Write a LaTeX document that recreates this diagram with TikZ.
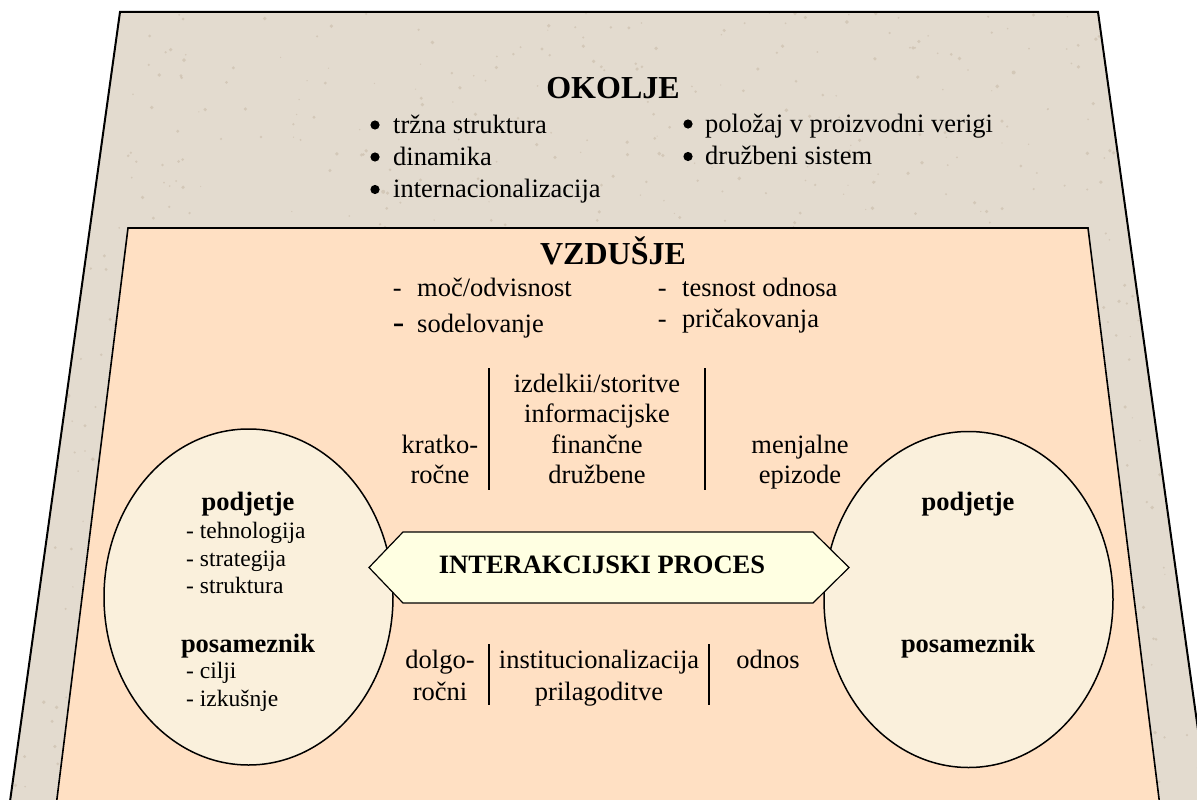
\documentclass[tikz,border=0pt]{standalone}
\usepackage{fontspec}
\setmainfont{Liberation Serif}
\usetikzlibrary{shapes.geometric}
\definecolor{outerfill}{RGB}{227,219,207}
\definecolor{speck}{RGB}{205,192,175}
\definecolor{innerfill}{RGB}{255,224,195}
\definecolor{ellfill}{RGB}{250,240,220}
\definecolor{hexfill}{RGB}{255,255,226}
\begin{document}
\begin{tikzpicture}[x=1pt,y=-1pt,
 title/.style={font=\fontsize{32}{36}\selectfont\bfseries, inner sep=0, anchor=base},
 txt/.style={font=\fontsize{26.5}{30.5}\selectfont, inner sep=0, anchor=base},
 txtl/.style={font=\fontsize{26.5}{30.5}\selectfont, inner sep=0, anchor=base west},
 small/.style={font=\fontsize{23.5}{27.5}\selectfont, inner sep=0, anchor=base west},
 bold/.style={font=\fontsize{26.5}{30}\selectfont\bfseries, inner sep=0, anchor=base},
 bar/.style={line width=2.5pt},
 ell/.style={draw, line width=1.5pt, fill=ellfill, ellipse, minimum width=289pt, minimum height=336pt, inner sep=0}]
\useasboundingbox (0,0) rectangle (1197,800);
\clip (0,0) rectangle (1197,800);
\fill[white] (0,0) rectangle (1197,800);
% outer trapezoid
\fill[outerfill] (120,12) -- (1098,12) -- (1208.5,805) -- (9.5,805) -- cycle;
\begin{scope}
\clip (120,12) -- (1098,12) -- (1208.5,805) -- (9.5,805) -- cycle;
\pgfmathsetseed{7}
\foreach \i in {1,...,1200} {
  \pgfmathsetmacro{\xx}{rnd*1200}
  \pgfmathsetmacro{\yy}{rnd*800}
  \pgfmathsetmacro{\rr}{0.6+rnd*1.4}
  \fill[speck, opacity=0.7] (\xx,\yy) circle (\rr);
}
\end{scope}
\draw[line width=2pt] (120,12) -- (1098,12) -- (1208.5,805) -- (9.5,805) -- cycle;
% inner trapezoid
\draw[line width=1.6pt, fill=innerfill] (128,228) -- (1088,228) -- (1159.8,805) -- (56.2,805) -- cycle;
% ellipses
\node[ell] (leftell) at (248.5,597) {};
\node[ell] (rightell) at (968.5,599.5) {};
% hexagon
\draw[line width=1.2pt, fill=hexfill] (369,567.5) -- (403,532) -- (813,532) -- (849,567.5) -- (813,603) -- (403,603) -- cycle;
\node[bold] (proc) at (602,573) {INTERAKCIJSKI PROCES};
% OKOLJE
\node[title] (okolje) at (613,99) {OKOLJE};
\foreach \by in {125,157,189.5} \fill (375,\by) circle (4.6);
\foreach \by in {124,156.5} \fill (688,\by) circle (4.6);
\node[txtl] (o1) at (393,133) {tržna struktura};
\node[txtl] (o2) at (393,165) {dinamika};
\node[txtl] (o3) at (393,197.5) {internacionalizacija};
\node[txtl] (o4) at (705,132) {položaj v proizvodni verigi};
\node[txtl] (o5) at (705,164.5) {družbeni sistem};
% VZDUSJE
\node[title] (vzdusje) at (613,264) {VZDUŠJE};
\node[txtl] (v1) at (392.6,296) {\makebox[24.4pt][l]{-}moč/odvisnost};
\node[txtl] (v2) at (392.6,332) {\makebox[24.4pt][l]{\raisebox{-1pt}{\scalebox{1.3}{-}}}sodelovanje};
\node[txtl] (v3) at (657.6,296) {\makebox[24.4pt][l]{-}tesnost odnosa};
\node[txtl] (v4) at (657.6,327) {\makebox[24.4pt][l]{-}pričakovanja};
% upper bars and text
\coordinate (ub1t) at (489,368); \coordinate (ub1b) at (489,490);
\coordinate (ub2t) at (705,368); \coordinate (ub2b) at (705,490);
\draw[bar] (ub1t) -- (ub1b);
\draw[bar] (ub2t) -- (ub2b);
\node[txt] (k1) at (440,453) {kratko-};
\node[txt] (k2) at (440,483) {ročne};
\node[txt] (i1) at (597,392) {izdelkii/storitve};
\node[txt] (i2) at (597,422.5) {informacijske};
\node[txt] (i3) at (597,453) {finančne};
\node[txt] (i4) at (597,483) {družbene};
\node[txt] (m1) at (800,453) {menjalne};
\node[txt] (m2) at (800,483) {epizode};
% lower bars and text
\coordinate (lb1t) at (489,644); \coordinate (lb1b) at (489,705);
\coordinate (lb2t) at (709,644); \coordinate (lb2b) at (709,705);
\draw[bar] (lb1t) -- (lb1b);
\draw[bar] (lb2t) -- (lb2b);
\node[txt] (d1) at (440,668) {dolgo-};
\node[txt] (d2) at (440,700) {ročni};
\node[txt] (n1) at (599,668) {institucionalizacija};
\node[txt] (n2) at (599,700) {prilagoditve};
\node[txt] (od) at (768,668) {odnos};
% left ellipse text
\node[bold] (lp) at (248,510) {podjetje};
\node[small] (l1) at (186,538) {- tehnologija};
\node[small] (l2) at (186,566) {- strategija};
\node[small] (l3) at (186,593) {- struktura};
\node[bold] (lq) at (248,652) {posameznik};
\node[small] (l4) at (186,678) {- cilji};
\node[small] (l5) at (186,706) {- izkušnje};
% right ellipse text
\node[bold] (rp) at (968,510) {podjetje};
\node[bold] (rq) at (968,652) {posameznik};
\end{tikzpicture}
\end{document}
